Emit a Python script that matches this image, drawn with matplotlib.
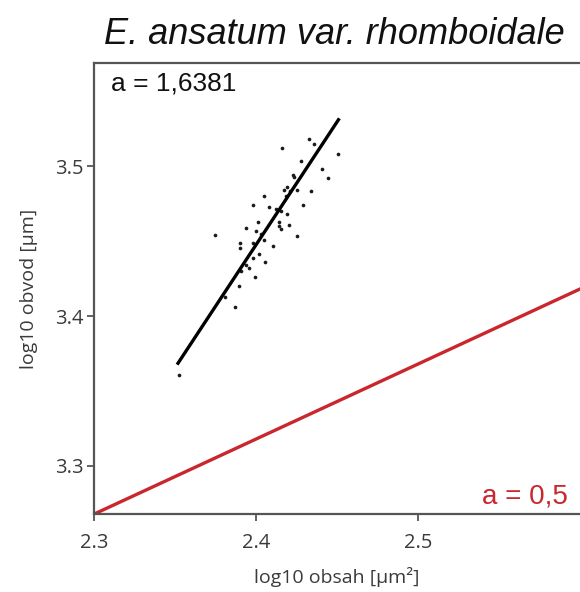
import matplotlib
matplotlib.use("Agg")
import matplotlib.pyplot as plt
import numpy as np

# log10 area (x) and log10 perimeter (y) of measured cells
obsah = [2.4327, 2.4358, 2.4157, 2.4508, 2.4278, 2.4409, 2.4225, 2.4231,
         2.4446, 2.4188, 2.4255, 2.4174, 2.4210, 2.4338, 2.4184, 2.4050,
         2.3978, 2.4081, 2.4286, 2.4122, 2.4153, 2.4192, 2.4009, 2.4138,
         2.4204, 2.4143, 2.4155, 2.3938, 2.3999, 2.4030, 2.3743, 2.4252,
         2.4050, 2.3897, 2.3897, 2.3978, 2.4102, 2.4015, 2.3978, 2.4055,
         2.3938, 2.3954, 2.3907, 2.3995, 2.3892, 2.3810, 2.3872, 2.3521]
obvod = [3.5177, 3.5148, 3.5121, 3.5081, 3.5032, 3.4977, 3.4937, 3.4925,
         3.4919, 3.4863, 3.4841, 3.4837, 3.4832, 3.4832, 3.4803, 3.4797,
         3.4737, 3.4730, 3.4741, 3.4715, 3.4703, 3.4677, 3.4625, 3.4625,
         3.4608, 3.4597, 3.4583, 3.4585, 3.4570, 3.4548, 3.4543, 3.4532,
         3.4508, 3.4485, 3.4452, 3.4485, 3.4470, 3.4415, 3.4388, 3.4363,
         3.4343, 3.4319, 3.4299, 3.4263, 3.4199, 3.4130, 3.4059, 3.3608]

# fitted slope / intercept and reference slope
fit_slope = 1.6381
fit_intercept = -0.4838
fit_range = [2.3517, 2.4508]
ref_slope = 0.5
ref_intercept = 2.118

x_ticks = [2.3, 2.4, 2.5]
y_ticks = [3.3, 3.4, 3.5]

fig = plt.figure(figsize=(5.8, 5.92), dpi=100)
ax = fig.add_axes([0.1626, 0.1318, 0.8374, 0.7618])

ax.scatter(obsah, obvod, s=7, color="#1a1a1a", linewidths=0, zorder=3)

xf = np.array(fit_range)
ax.plot(xf, fit_slope * xf + fit_intercept, color="black", lw=2.4, zorder=4)

xr = np.array([2.3, 2.6])
ax.plot(xr, ref_slope * xr + ref_intercept, color="#c9272d", lw=2.4, zorder=2)

ax.set_xlim(2.3, 2.6)
ax.set_ylim(3.268, 3.5687)
ax.set_xticks(x_ticks)
ax.set_yticks(y_ticks)
ax.set_xticklabels([f"{t:.1f}" for t in x_ticks])
ax.set_yticklabels([f"{t:.1f}" for t in y_ticks])

for side in ["left", "bottom", "top"]:
    ax.spines[side].set_color("#555555")
    ax.spines[side].set_linewidth(1.6)
ax.spines["right"].set_visible(False)
ax.tick_params(colors="#555555", labelcolor="#3a3a3a", labelsize=14.5,
               length=5, width=1.3)
ax.tick_params(axis="x", pad=9)
ax.tick_params(axis="y", pad=3)
for lab in ax.get_xticklabels() + ax.get_yticklabels():
    lab.set_family("Open Sans")

ax.set_xlabel("log10 obsah [µm²]", family="Open Sans", fontsize=14,
              color="#3a3a3a", labelpad=10)
ax.set_ylabel("log10 obvod [µm]", family="Open Sans", fontsize=14,
              color="#3a3a3a", labelpad=12)

ax.text(0.034, 0.955, "a = 1,6381", transform=ax.transAxes, ha="left",
        va="center", family="Liberation Sans", fontsize=19, color="#111111")
ax.text(0.975, 0.038, "a = 0,5", transform=ax.transAxes, ha="right",
        va="center", family="Liberation Sans", fontsize=20, color="#c9272d")

fig.text(0.576, 0.942, "E. ansatum var. rhomboidale", ha="center",
         va="center", family="Liberation Sans", style="italic", fontsize=26,
         color="#111111")

fig.savefig("out.png", dpi=100)
